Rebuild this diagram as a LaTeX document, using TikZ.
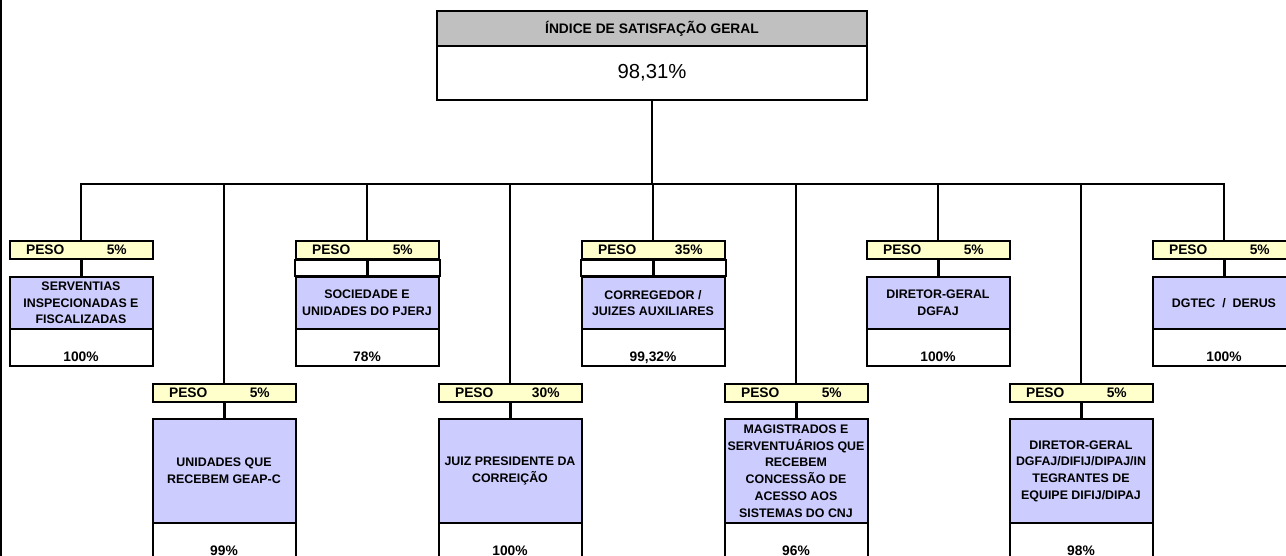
\documentclass[tikz,border=0pt]{standalone}
\usepackage{fontspec}
\setmainfont{Liberation Sans}
\definecolor{cinza}{HTML}{C0C0C0}
\definecolor{amarelo}{HTML}{FFFFCC}
\definecolor{lilas}{HTML}{CCCCFF}
\tikzset{
	cellbox/.style={draw,rectangle,line width=2pt,inner sep=0pt,minimum width=143pt},
	pesobox/.style={cellbox,fill=amarelo,minimum height=18pt,font=\fontsize{13.8}{16}\selectfont\bfseries},
	itembox/.style={cellbox,fill=lilas,align=center,font=\fontsize{12.4}{16.7}\selectfont\bfseries},
	valbox/.style={cellbox,fill=white,minimum height=37pt,text height=32pt,text depth=5pt,font=\fontsize{13.8}{16}\selectfont\bfseries},
	stem/.style={draw=black,line width=1.8pt},
	shortstem/.style={draw=black,line width=3pt}
}

\begin{document}
\begin{tikzpicture}[x=1pt,y=-1pt]
	\useasboundingbox (0,0) rectangle (1286,556);
	\draw[line width=2pt] (1,0) -- (1,556);
	\node[cellbox,fill=cinza,minimum width=430pt,minimum height=35pt,font=\fontsize{13.8}{16}\selectfont\bfseries] (titulo) at (652,28.5) {ÍNDICE DE SATISFAÇÃO GERAL};
	\node[cellbox,fill=white,minimum width=430pt,minimum height=54pt,font=\fontsize{20.3}{24}\selectfont] (geral) at (652,73) {98,31\%};
	\draw[stem] (geral.south) -- ++(0,83) coordinate (bus);
	\foreach \x/\pp/\tt/\vv in {81/5/{SERVENTIAS\\INSPECIONADAS E\\FISCALIZADAS}/100,
		367/5/{SOCIEDADE E\\UNIDADES DO PJERJ}/78,
		653/35/{CORREGEDOR /\\JUIZES AUXILIARES}/{99,32},
		938/5/{DIRETOR-GERAL\\DGFAJ}/100,
		1224/5/{DGTEC\ \ /\ \ DERUS}/100}{
		\node[pesobox] (peso\x) at (\x,250) {\makebox[71.5pt]{PESO}\makebox[71.5pt]{\pp\%}};
		\node[itembox,minimum height=52pt] (item\x) at (\x,303) {\tt};
		\node[valbox] (val\x) at (\x,347.5) {\vv\%};
	}
	\foreach \x/\pp/\tt/\vv in {224/5/{UNIDADES QUE\\RECEBEM GEAP-C}/99,
		510/30/{JUIZ PRESIDENTE DA\\CORREIÇÃO}/100,
		796/5/{MAGISTRADOS E\\SERVENTUÁRIOS QUE\\RECEBEM\\CONCESSÃO DE\\ACESSO AOS\\SISTEMAS DO CNJ}/96,
		1081/5/{DIRETOR-GERAL\\DGFAJ/DIFIJ/DIPAJ/IN\\TEGRANTES DE\\EQUIPE DIFIJ/DIPAJ}/98}{
		\node[pesobox] (peso\x) at (\x,392.5) {\makebox[71.5pt]{PESO}\makebox[71.5pt]{\pp\%}};
		\node[itembox,minimum height=104pt] (item\x) at (\x,471) {\tt};
		\node[valbox] (val\x) at (\x,541.5) {\vv\%};
	}
	\draw[line width=2pt] (peso367.south west) rectangle (item367.north east);
	\draw[line width=2pt] (peso653.south west) rectangle (item653.north east);
	\foreach \x in {81,224,367,510,653,796,938,1081,1224}{
		\draw[stem] (bus) -| (peso\x.north);
		\draw[shortstem] (peso\x.south) -- (item\x.north);
	}
\end{tikzpicture}
\end{document}
